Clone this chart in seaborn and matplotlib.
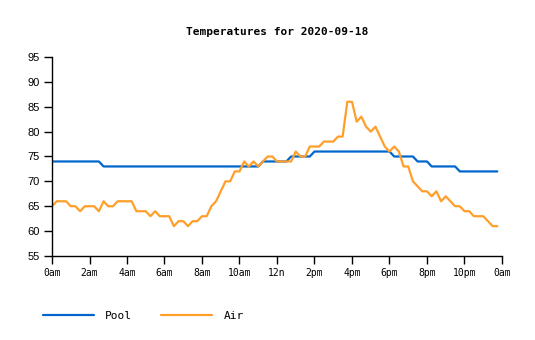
import numpy as np
import pandas as pd
import matplotlib
matplotlib.use("Agg")
import matplotlib.pyplot as plt
import seaborn as sns

# ---- data (15-minute samples from midnight) ----
pool = [74]*11 + [73]*34 + [74]*6 + [75]*5 + [76]*17 + [75]*5 + [74]*3 + [73]*6 + [72]*9
air = [65, 66, 66, 66, 65, 65, 64, 65, 65, 65, 64, 66, 65, 65, 66, 66,
       66, 66, 64, 64, 64, 63, 64, 63, 63, 63, 61, 62, 62, 61, 62, 62,
       63, 63, 65, 66, 68, 70, 70, 72, 72, 74, 73, 74, 73, 74, 75, 75,
       74, 74, 74, 74, 76, 75, 75, 77, 77, 77, 78, 78, 78, 79, 79, 86,
       86, 82, 83, 81, 80, 81, 79, 77, 76, 77, 76, 73, 73, 70, 69, 68,
       68, 67, 68, 66, 67, 66, 65, 65, 64, 64, 63, 63, 63, 62, 61, 61]
hours = np.arange(len(air)) * 0.25
series_names = ["Pool", "Air"]
series_colors = ["#0066cc", "#ff9f2a"]
x_ticks = [0, 2, 4, 6, 8, 10, 12, 14, 16, 18, 20, 22, 24]
x_labels = ["0am", "2am", "4am", "6am", "8am", "10am", "12n", "2pm", "4pm",
            "6pm", "8pm", "10pm", "0am"]
y_ticks = [55, 60, 65, 70, 75, 80, 85, 90, 95]
title = "Temperatures for 2020-09-18"

df = pd.DataFrame({
    "hour": np.concatenate([hours, hours]),
    "temp": pool + air,
    "series": ["Pool"] * len(pool) + ["Air"] * len(air),
})

sns.set_style("white")
plt.rcParams.update({
    "text.color": "black",
    "axes.labelcolor": "black",
    "xtick.color": "black",
    "ytick.color": "black",
    "axes.edgecolor": "black",
})
mono = "DejaVu Sans Mono"

fig = plt.figure(figsize=(5.35, 3.4), dpi=100)
ax = fig.add_axes([52/535, 84/340, 450/535, 199/340])

sns.lineplot(data=df, x="hour", y="temp", hue="series", hue_order=series_names,
             palette=series_colors, linewidth=1.6, ax=ax, legend=True)

ax.set_xlim(0, 24)
ax.set_ylim(55, 95)
ax.set_xticks(x_ticks)
ax.set_xticklabels(x_labels, family=mono, fontsize=7)
ax.set_yticks(y_ticks)
ax.set_yticklabels([str(v) for v in y_ticks], family="Liberation Sans", fontsize=8)
ax.tick_params(axis="both", direction="out", length=6, width=1, color="black",
               labelcolor="black", bottom=True, left=True, pad=3)
ax.set_xlabel("")
ax.set_ylabel("")
for s in ["top", "right"]:
    ax.spines[s].set_visible(False)
for s in ["left", "bottom"]:
    ax.spines[s].set_color("black")
    ax.spines[s].set_linewidth(1)

fig.text(277/535, 1 - 32/340, title, ha="center", va="center",
         family=mono, fontweight="bold", fontsize=8, color="black")

handles, labels = ax.get_legend_handles_labels()
ax.get_legend().remove()
leg = fig.legend(handles, labels, loc="center left", bbox_to_anchor=(33/535, 1 - 316/340),
                 ncol=2, frameon=False, prop={"family": mono, "size": 8},
                 handlelength=4.6, handletextpad=1.0, columnspacing=2.6)
for t in leg.get_texts():
    t.set_color("black")

fig.savefig("out.png", dpi=100)
